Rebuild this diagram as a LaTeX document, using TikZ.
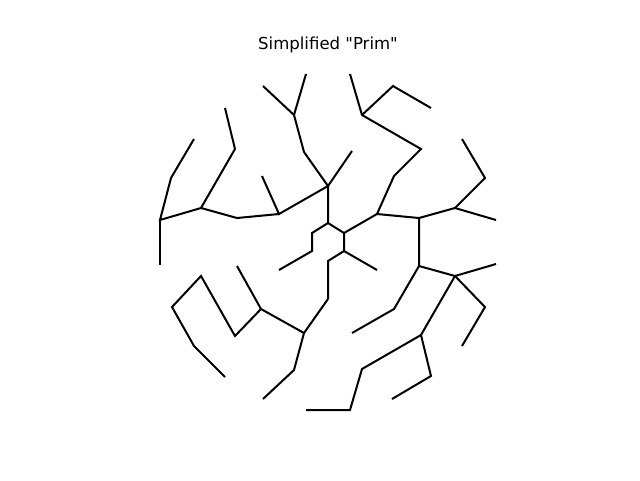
\documentclass[tikz,border=0pt]{standalone}
\usepackage{fontspec}
\newfontfamily\ttlfont{DejaVu Sans}
\begin{document}
\begin{tikzpicture}[x=0.75pt,y=-0.75pt,
  edge/.style={line width=1.5pt,line join=miter,line cap=butt},
  ttl/.style={font=\ttlfont\fontsize{12.4}{14}\selectfont,inner sep=0pt}]
\useasboundingbox (0,0) rectangle (640,480);
\node[ttl] (title) at (328,45) {Simplified "Prim"};
% centre
\coordinate (c0) at (328,186);
\coordinate (h1) at (328,223); \coordinate (h2) at (344,233);
\coordinate (h3) at (344,251); \coordinate (h4) at (328,261);
\coordinate (h5) at (312,251); \coordinate (h6) at (312,233);
\coordinate (p1) at (279,270); \coordinate (r0) at (377,214);
\coordinate (r1) at (377,270); \coordinate (d0) at (328,299);
% upper left
\coordinate (u1) at (352,151); \coordinate (u2) at (304,152);
\coordinate (u3) at (294,115); \coordinate (u4) at (263,86);
\coordinate (u5) at (306,74);  \coordinate (u6) at (279,214);
\coordinate (u7) at (262,176); \coordinate (u8) at (237,218);
\coordinate (u9) at (201,208); \coordinate (u10) at (235,149);
\coordinate (u11) at (225,108); \coordinate (u12) at (160,220);
\coordinate (u13) at (171,178); \coordinate (u14) at (194,139);
\coordinate (u15) at (160,265);
% upper right
\coordinate (v1) at (394,176); \coordinate (v2) at (421,149);
\coordinate (v3) at (362,115); \coordinate (v4) at (350,74);
\coordinate (v5) at (393,86);  \coordinate (v6) at (431,108);
\coordinate (v7) at (419,218); \coordinate (v8) at (455,208);
\coordinate (v9) at (485,178); \coordinate (v10) at (462,139);
\coordinate (v11) at (496,220); \coordinate (v12) at (419,266);
\coordinate (v13) at (394,309); \coordinate (v14) at (352,333);
\coordinate (v15) at (455,276); \coordinate (v16) at (496,264);
\coordinate (v17) at (485,307); \coordinate (v18) at (462,346);
\coordinate (v19) at (421,335); \coordinate (v20) at (431,376);
\coordinate (v21) at (392,399); \coordinate (v22) at (362,369);
\coordinate (v23) at (350,410); \coordinate (v24) at (306,410);
% lower left
\coordinate (w1) at (304,333); \coordinate (w2) at (294,370);
\coordinate (w3) at (263,399); \coordinate (w4) at (261,309);
\coordinate (w5) at (237,266); \coordinate (w6) at (235,336);
\coordinate (w7) at (201,276); \coordinate (w8) at (172,307);
\coordinate (w9) at (194,346); \coordinate (w10) at (225,377);
% edges
\draw[edge] (c0) -- (h1) -- (h6) -- (h5) -- (p1);
\draw[edge] (h1) -- (h2) -- (r0);
\draw[edge] (h2) -- (h3) -- (r1);
\draw[edge] (h3) -- (h4) -- (d0);
\draw[edge] (c0) -- (u1);
\draw[edge] (c0) -- (u2) -- (u3) -- (u4);
\draw[edge] (u3) -- (u5);
\draw[edge] (c0) -- (u6) -- (u7);
\draw[edge] (u6) -- (u8) -- (u9) -- (u10) -- (u11);
\draw[edge] (u9) -- (u12) -- (u13) -- (u14);
\draw[edge] (u12) -- (u15);
\draw[edge] (r0) -- (v1) -- (v2) -- (v3) -- (v4);
\draw[edge] (v3) -- (v5) -- (v6);
\draw[edge] (r0) -- (v7) -- (v8) -- (v9) -- (v10);
\draw[edge] (v8) -- (v11);
\draw[edge] (v7) -- (v12) -- (v13) -- (v14);
\draw[edge] (v12) -- (v15) -- (v16);
\draw[edge] (v15) -- (v17) -- (v18);
\draw[edge] (v15) -- (v19) -- (v20) -- (v21);
\draw[edge] (v19) -- (v22) -- (v23) -- (v24);
\draw[edge] (d0) -- (w1) -- (w2) -- (w3);
\draw[edge] (w1) -- (w4) -- (w5);
\draw[edge] (w4) -- (w6) -- (w7) -- (w8) -- (w9) -- (w10);
\end{tikzpicture}
\end{document}
